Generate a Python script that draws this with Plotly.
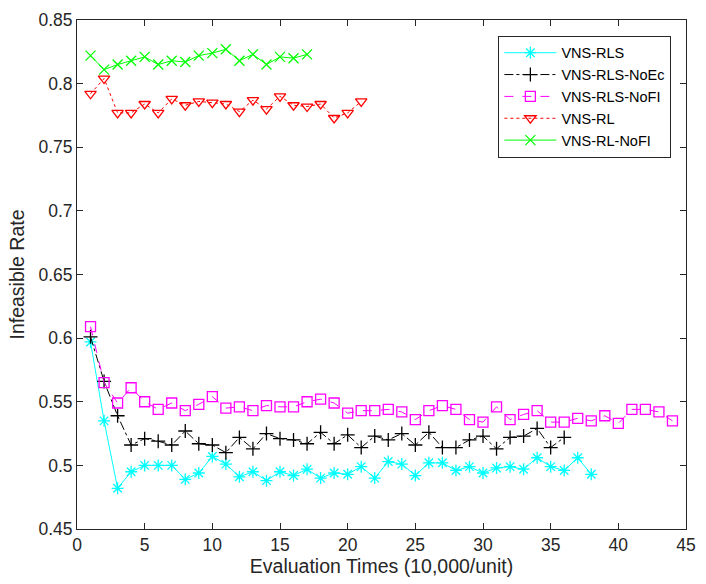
import plotly.graph_objects as go

# ---- data ----
x_rls = list(range(1, 39))
vns_rls = [0.597, 0.535, 0.482, 0.495, 0.500, 0.500, 0.500, 0.489, 0.494, 0.507,
           0.501, 0.491, 0.495, 0.488, 0.495, 0.492, 0.497, 0.490, 0.494, 0.493,
           0.499, 0.490, 0.503, 0.501, 0.492, 0.502, 0.502, 0.496, 0.499, 0.494,
           0.498, 0.499, 0.497, 0.506, 0.499, 0.496, 0.506, 0.493]

x_noec = list(range(1, 37))
vns_rls_noec = [0.601, 0.566, 0.539, 0.516, 0.521, 0.519, 0.516, 0.527, 0.517, 0.516,
                0.510, 0.522, 0.513, 0.525, 0.521, 0.520, 0.517, 0.526, 0.517, 0.524,
                0.514, 0.523, 0.520, 0.525, 0.516, 0.526, 0.514, 0.514, 0.520, 0.523,
                0.513, 0.522, 0.523, 0.529, 0.514, 0.522]

x_nofi = list(range(1, 45))
vns_rls_nofi = [0.609, 0.565, 0.549, 0.561, 0.550, 0.544, 0.549, 0.543, 0.548, 0.554,
                0.545, 0.546, 0.543, 0.547, 0.546, 0.546, 0.550, 0.552, 0.549, 0.541,
                0.543, 0.543, 0.544, 0.542, 0.536, 0.543, 0.547, 0.544, 0.536, 0.534,
                0.546, 0.536, 0.540, 0.543, 0.534, 0.534, 0.537, 0.535, 0.539, 0.533,
                0.544, 0.544, 0.542, 0.535]

x_rl = list(range(1, 22))
vns_rl = [0.792, 0.804, 0.777, 0.777, 0.784, 0.777, 0.788, 0.783, 0.786, 0.785,
          0.784, 0.778, 0.787, 0.780, 0.790, 0.783, 0.782, 0.784, 0.773, 0.777, 0.786]

x_rl_nofi = list(range(1, 18))
vns_rl_nofi = [0.822, 0.811, 0.815, 0.818, 0.821, 0.815, 0.818, 0.817, 0.822, 0.824,
               0.827, 0.818, 0.823, 0.815, 0.821, 0.820, 0.823]

x_ticks = [0, 5, 10, 15, 20, 25, 30, 35, 40, 45]
y_ticks = [0.45, 0.5, 0.55, 0.6, 0.65, 0.7, 0.75, 0.8, 0.85]
y_ticktext = ["0.45", "0.5", "0.55", "0.6", "0.65", "0.7", "0.75", "0.8", "0.85"]

FONT = "Liberation Sans, Arial, sans-serif"
AX = "#262626"

fig = go.Figure()

def add(x, y, name, color, dash, symbol):
    fig.add_trace(go.Scatter(
        x=x, y=y, name=name, mode="lines+markers",
        line=dict(color=color, width=1, dash=dash),
        marker=dict(symbol=symbol, size=10, color=color,
                    line=dict(color=color, width=1.3)),
    ))

add(x_rls, vns_rls, "VNS-RLS", "#00FFFF", "solid", "asterisk-open")
add(x_noec, vns_rls_noec, "VNS-RLS-NoEc", "#000000", "dashdot", "cross-thin-open")
add(x_nofi, vns_rls_nofi, "VNS-RLS-NoFI", "#FF00FF", "dash", "square-open")
add(x_rl, vns_rl, "VNS-RL", "#FF0000", "dot", "triangle-down-open")
add(x_rl_nofi, vns_rl_nofi, "VNS-RL-NoFI", "#00FF00", "solid", "x-thin-open")

axis_common = dict(
    showline=True, linecolor=AX, linewidth=1, mirror="ticks",
    ticks="inside", ticklen=6, tickcolor=AX, showgrid=False, zeroline=False,
    tickfont=dict(family=FONT, size=17.5, color=AX),
)

fig.update_layout(
    width=706, height=584,
    margin=dict(l=77, r=10, t=18, b=55),
    paper_bgcolor="white", plot_bgcolor="white",
    font=dict(family=FONT, color=AX),
    xaxis=dict(range=[0, 45], tickvals=x_ticks,
               title=dict(text="Evaluation Times (10,000/unit)",
                          font=dict(family=FONT, size=19.5, color=AX), standoff=2),
               **axis_common),
    yaxis=dict(range=[0.45, 0.85], tickvals=y_ticks, ticktext=y_ticktext,
               title=dict(text="Infeasible Rate",
                          font=dict(family=FONT, size=19.5, color=AX), standoff=8),
               **axis_common),
    legend=dict(x=0.976, y=0.969, xanchor="right", yanchor="top",
                bgcolor="white", bordercolor=AX, borderwidth=1,
                font=dict(family=FONT, size=14.5, color="#000000"),
                itemwidth=52, tracegroupgap=0),
    showlegend=True,
)

fig.write_html("out.html", config={"displayModeBar": False},
               post_script="document.body.style.margin='0px';")
